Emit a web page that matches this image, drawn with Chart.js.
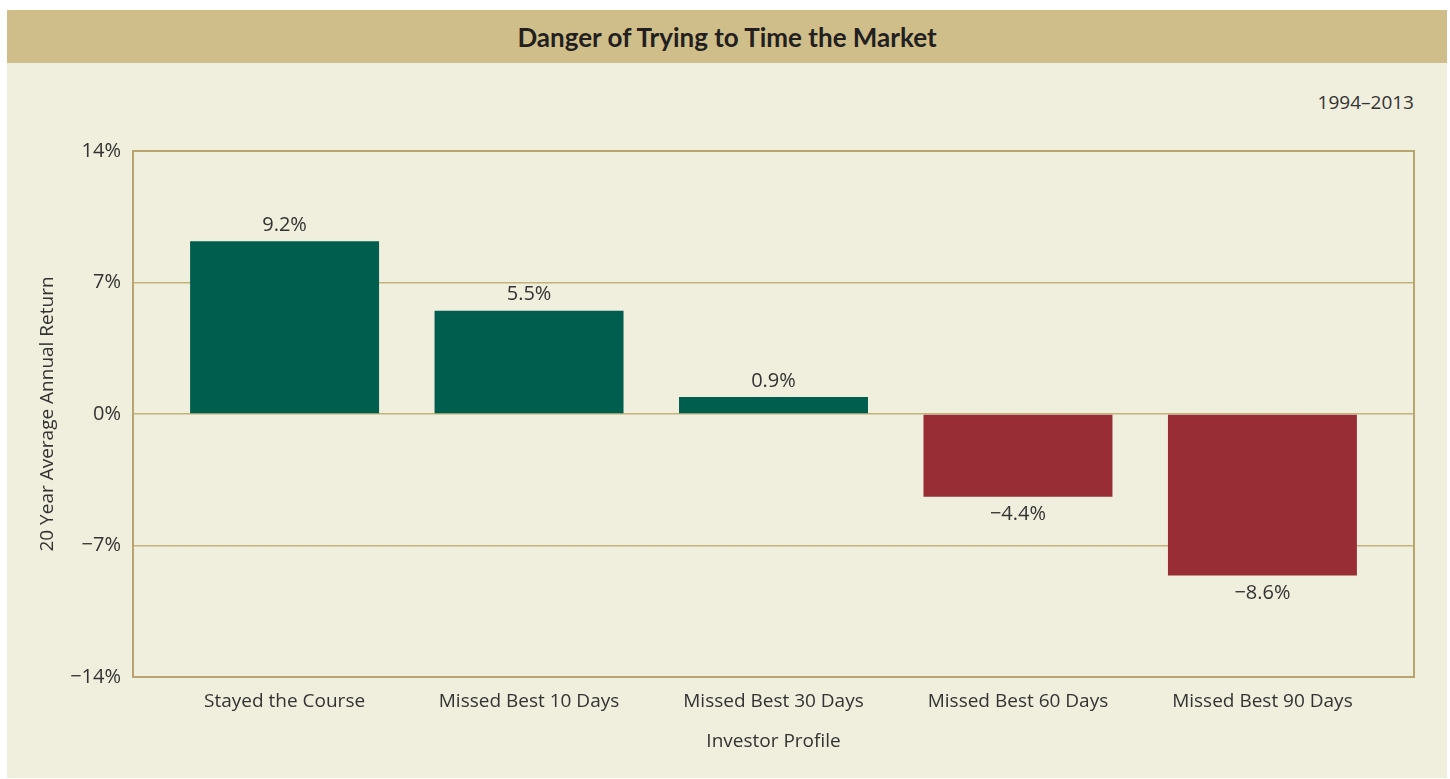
<!DOCTYPE html>
<html>
<head>
<meta charset="utf-8">
<script src="https://cdn.jsdelivr.net/npm/chart.js@4"></script>
<style>
  html, body { margin: 0; padding: 0; background: #ffffff; width: 1450px; height: 779px; overflow: hidden; }
  #panel { position: absolute; left: 7px; top: 10px; width: 1440px; height: 768px; background: #F0EEDD; }
  #header { position: absolute; left: 7px; top: 10px; width: 1440px; height: 53px; background: #CFBE8A;
            display: flex; align-items: center; justify-content: center;
            font-family: Lato, "Open Sans", sans-serif; font-weight: bold; font-size: 26px; color: #231F20; }
  #period { position: absolute; right: 36px; top: 89px; font-family: "Open Sans", sans-serif; font-size: 19px; color: #333; }
  #wrap { position: absolute; left: 7px; top: 63px; width: 1440px; height: 715px; }
</style>
</head>
<body>
<div id="panel"></div>
<div id="header">Danger of Trying to Time the Market</div>
<div id="period">1994–2013</div>
<div id="wrap"><canvas id="c" width="1440" height="715"></canvas></div>
<script>
const categories = ["Stayed the Course", "Missed Best 10 Days", "Missed Best 30 Days", "Missed Best 60 Days", "Missed Best 90 Days"];
const returns = [9.2, 5.5, 0.9, -4.4, -8.6];
const yTicks = [-14, -7, 0, 7, 14];
const yTitle = "20 Year Average Annual Return";
const xTitle = "Investor Profile";

const GREEN = "#005E4E";
const RED = "#982D35";
const GRID = "#C3B27C";
const TEXT = "#333333";
const FONT = "'Open Sans', sans-serif";
const FS = 19;
const FN = 20;

function fmt(v) {
  const s = Math.abs(v).toFixed(1) + "%";
  return v < 0 ? "\u2212" + s : s;
}

const borderPlugin = {
  id: "frame",
  afterDatasetsDraw(chart) {
    const { ctx, chartArea: a } = chart;
    ctx.save();
    ctx.strokeStyle = "#B8A56E";
    ctx.lineWidth = 2;
    ctx.strokeRect(a.left, a.top, a.right - a.left, a.bottom - a.top);
    ctx.restore();
  }
};

const labelPlugin = {
  id: "valueLabels",
  afterDatasetsDraw(chart) {
    const { ctx } = chart;
    const meta = chart.getDatasetMeta(0);
    ctx.save();
    ctx.font = FN + "px " + FONT;
    ctx.fillStyle = TEXT;
    ctx.textAlign = "center";
    ctx.textBaseline = "middle";
    meta.data.forEach((bar, i) => {
      const v = returns[i];
      const y = v >= 0 ? bar.y - 16 : bar.y + 18;
      ctx.fillText(fmt(v), bar.x, y);
    });
    ctx.restore();
  }
};

new Chart(document.getElementById("c"), {
  type: "bar",
  data: {
    datasets: [{
      data: returns.map((v, i) => ({ x: i, y: v })),
      backgroundColor: returns.map(v => v >= 0 ? GREEN : RED),
      borderWidth: 0,
      barPercentage: 0.773,
      categoryPercentage: 1.0
    }]
  },
  options: {
    responsive: false,
    animation: false,
    devicePixelRatio: 1,
    layout: { padding: { top: 88, right: 33, left: 0, bottom: 0 } },
    plugins: { legend: { display: false }, tooltip: { enabled: false }, title: { display: false } },
    scales: {
      x: {
        type: "linear",
        min: -0.62, max: categories.length - 1 + 0.62,
        offset: false,
        afterBuildTicks(s) { s.ticks = categories.map((c, i) => ({ value: i })); },
        grid: { display: false, drawTicks: false },
        border: { display: false },
        ticks: { color: TEXT, font: { family: FONT, size: FS }, padding: 13, maxRotation: 0, autoSkip: false,
                 callback: v => categories[v] },
        title: { display: true, text: xTitle, color: TEXT, font: { family: FONT, size: FS }, padding: { top: 0, bottom: 25 } },
        afterFit(s) { s.height = 101; }
      },
      y: {
        min: -14, max: 14,
        afterBuildTicks(s) { s.ticks = yTicks.map(v => ({ value: v })); },
        grid: { color: GRID, lineWidth: 1.5, drawTicks: false },
        border: { display: false },
        ticks: { color: TEXT, font: { family: FONT, size: FN }, padding: 12,
                 callback: v => fmt(v).replace(".0", "") },
        title: { display: true, text: yTitle, color: TEXT, font: { family: FONT, size: FS }, padding: { top: 29, bottom: 0 } },
        afterFit(s) { s.width = 126; }
      }
    }
  },
  plugins: [borderPlugin, labelPlugin]
});
</script>
</body>
</html>
